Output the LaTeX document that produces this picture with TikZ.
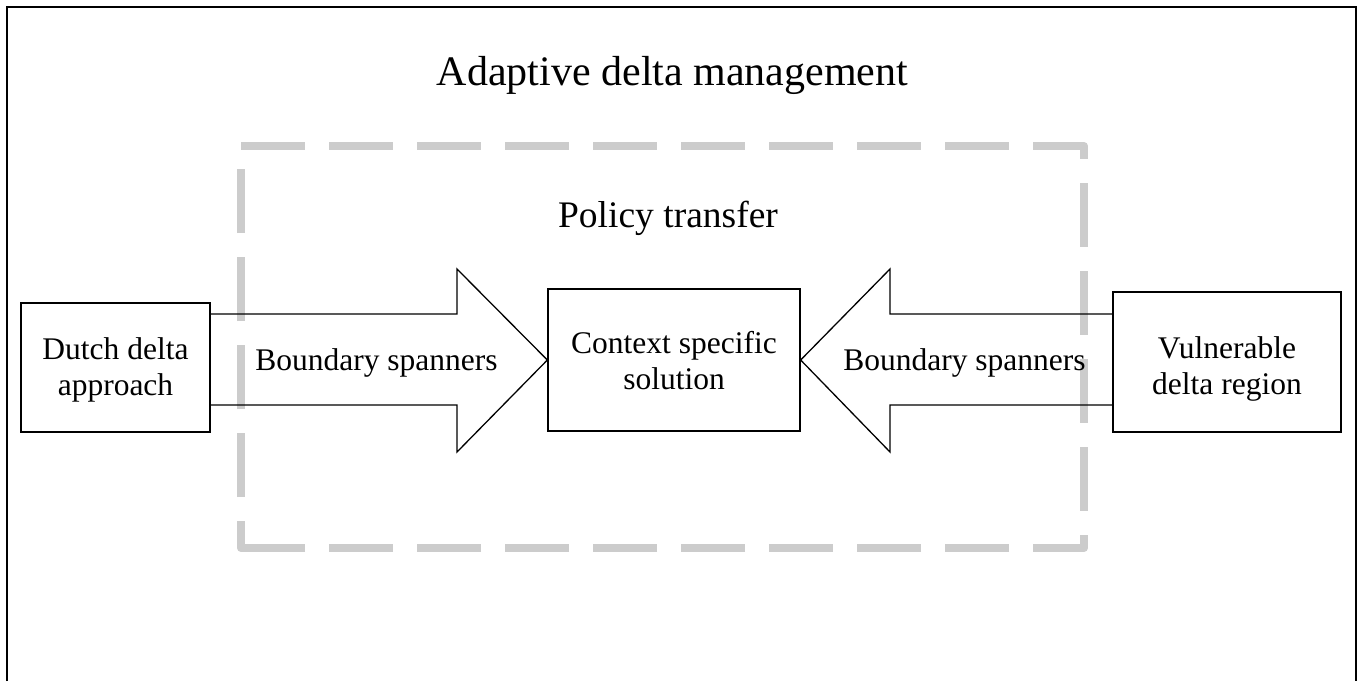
\documentclass[tikz,border=0pt]{standalone}
\usepackage{fontspec}
\setmainfont{Liberation Serif}
\definecolor{dashgray}{RGB}{204,204,204}
\tikzset{
  box/.style={draw, line width=1.3pt, rectangle, inner sep=0pt},
  txt/.style={inner sep=0pt, align=center, font=\fontsize{31.5}{36}\selectfont},
  blockarrow/.style={draw, line width=1.3pt, line join=miter},
  grayframe/.style={draw=dashgray, line width=8pt, line join=round},
  outerframe/.style={draw, line width=2.5pt}
}
\begin{document}
\begin{tikzpicture}[x=1pt,y=-1pt]
\useasboundingbox (0,0) rectangle (1364,681);
% outer frame (bottom edge outside the picture)
\draw[outerframe] (7,681) -- (7,7) -- (1356,7) -- (1356,681);
% dashed grey "policy transfer" frame
\coordinate (ptl) at (241,146);
\coordinate (ptr) at (1084,146);
\coordinate (pbr) at (1084,548);
\coordinate (pbl) at (241,548);
\draw[grayframe, dash pattern=on 64pt off 24pt] (ptl) -- (ptr) -- (pbr) -- (pbl);
\draw[grayframe, dash pattern=on 64pt off 24pt, dash phase=29pt] ([xshift=8pt]pbl) -- (pbl) -- (ptl);
% boxes
\node[box, minimum width=189pt, minimum height=129pt] (dutch) at (115.5,367.5) {};
\node[box, minimum width=252pt, minimum height=142pt] (context) at (674,360) {};
\node[box, minimum width=228pt, minimum height=140pt] (vuln) at (1227,362) {};
% block arrows
\draw[blockarrow] (dutch.east |- 0,314) -- (457,314) -- (457,269) -- (context.west)
  -- (457,452) -- (457,405) -- (dutch.east |- 0,405);
\draw[blockarrow] (vuln.west |- 0,314) -- (890,314) -- (890,269) -- (context.east)
  -- (890,452) -- (890,405) -- (vuln.west |- 0,405);
% texts
\node[inner sep=0pt, anchor=base, font=\fontsize{42}{48}\selectfont] (title) at (672.5,85) {Adaptive delta management};
\node[inner sep=0pt, anchor=base, font=\fontsize{37.5}{43}\selectfont] (policy) at (668,227) {Policy transfer};
\node[txt] (dutchtext) at (115.5,369.7) {Dutch delta\\approach};
\node[txt] (contexttext) at (674,360.2) {Context specific\\solution};
\node[txt] (vulntext) at (1227,368.7) {Vulnerable\\delta region};
\node[txt, anchor=base] (bsleft) at (376.5,370) {Boundary spanners};
\node[txt, anchor=base] (bsright) at (964.5,370) {Boundary spanners};
\end{tikzpicture}
\end{document}
